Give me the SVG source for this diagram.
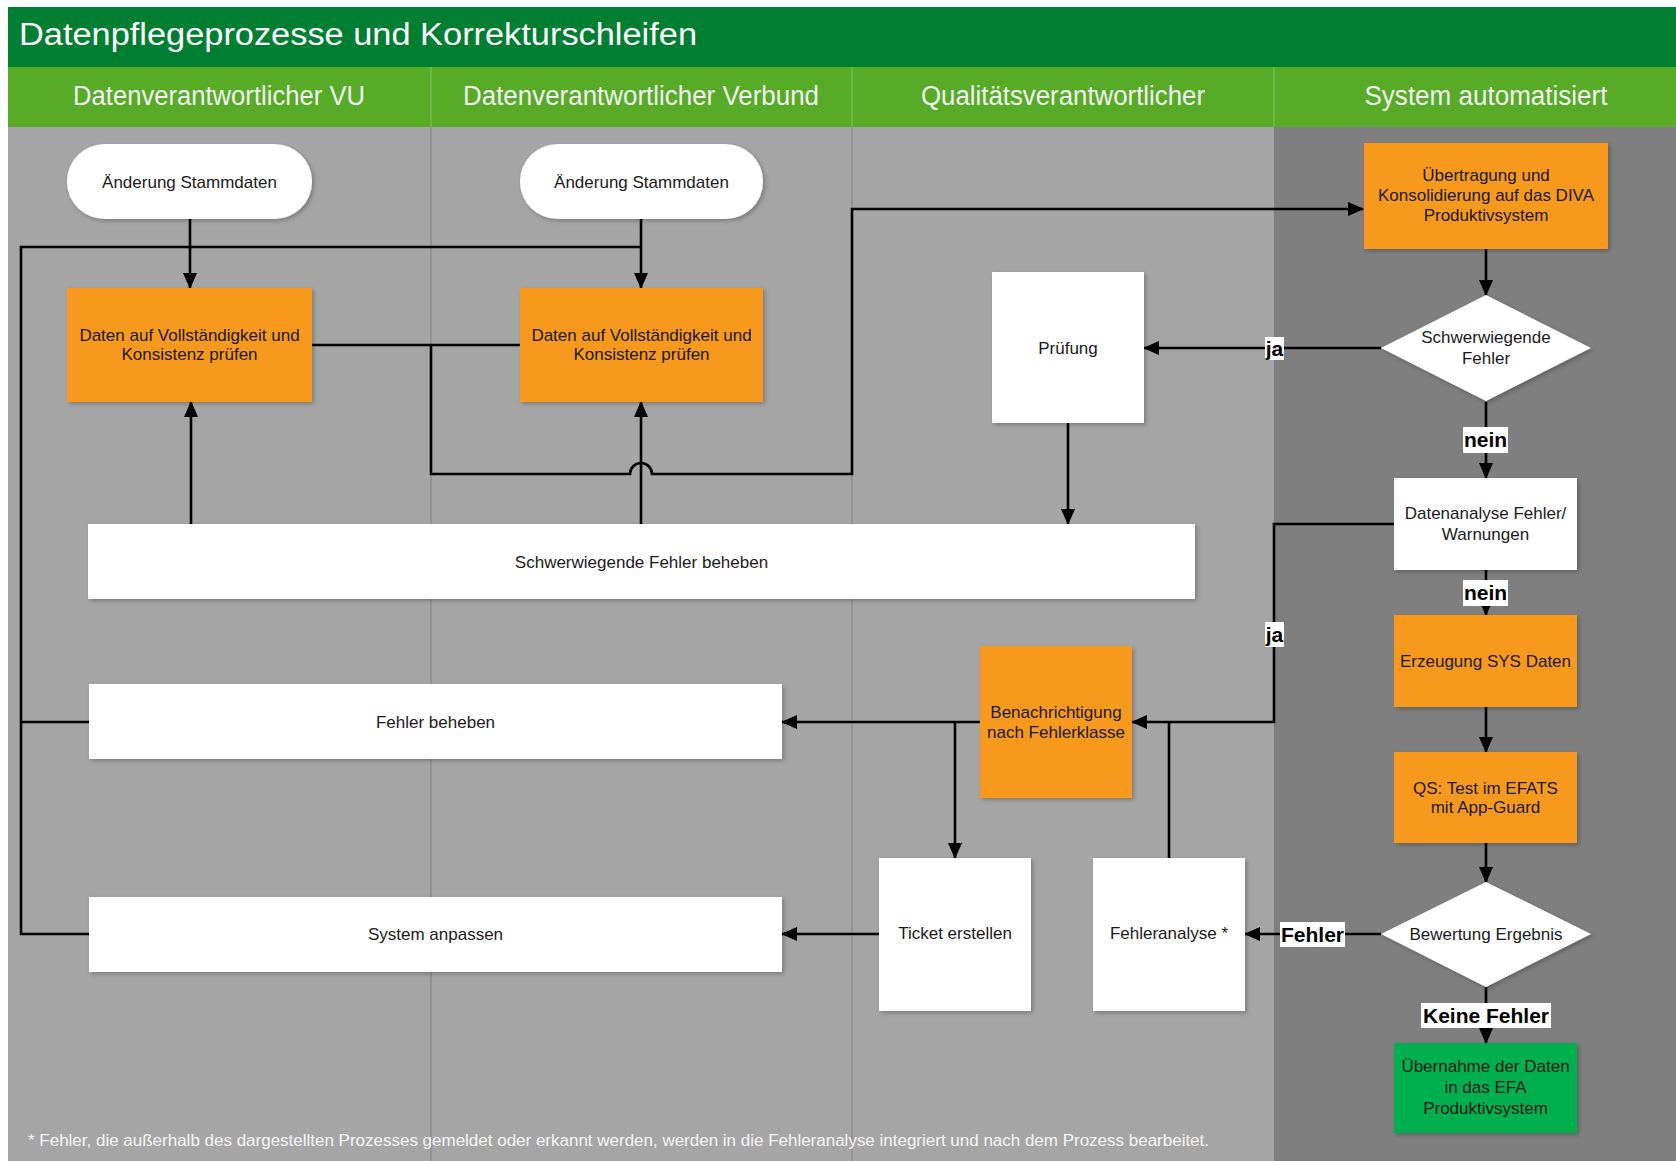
<svg xmlns="http://www.w3.org/2000/svg" width="1676" height="1161" viewBox="0 0 1676 1161">
<defs>
<style>
.t{font-family:"Liberation Sans",Arial,sans-serif;font-size:17px;fill:#1a1a1a;text-anchor:middle}
.hd{font-family:"Liberation Sans",Arial,sans-serif;font-size:27px;fill:#f2f2f2;text-anchor:middle}
.lb{font-family:"Liberation Sans",Arial,sans-serif;font-size:21px;font-weight:bold;fill:#000;text-anchor:middle}
.lbg{fill:#fff}
.w{fill:#fff}
.o{fill:#F7991F}
.g{fill:#00B050}
.c{fill:none;stroke:#000;stroke-width:2.6}
.a{marker-end:url(#arr)}
</style>
<marker id="arr" viewBox="0 0 16 14" refX="15" refY="7" markerWidth="16" markerHeight="14" markerUnits="userSpaceOnUse" orient="auto">
<path d="M0,0 L16,7 L0,14 z" fill="#000"/>
</marker>
<filter id="sh" x="-10%" y="-10%" width="125%" height="125%">
<feDropShadow dx="2" dy="2" stdDeviation="2" flood-color="#000" flood-opacity="0.25"/>
</filter>
</defs>

<!-- background -->
<rect x="0" y="0" width="1676" height="1161" fill="#fff"/>
<rect x="8" y="127" width="1266" height="1034" fill="#A5A5A5"/>
<rect x="1274" y="127" width="402" height="1034" fill="#7F7F7F"/>
<line x1="431" y1="127" x2="431" y2="1161" stroke="#8C8C8C" stroke-width="1.5"/>
<line x1="852" y1="127" x2="852" y2="1161" stroke="#8C8C8C" stroke-width="1.5"/>

<!-- title and lane headers -->
<g id="title">
<rect x="8" y="7" width="1668" height="60" fill="#007F32"/>
<text x="19" y="45" font-family="Liberation Sans, Arial, sans-serif" font-size="31" fill="#fff" textLength="678" lengthAdjust="spacingAndGlyphs">Datenpflegeprozesse und Korrekturschleifen</text>
</g>
<g id="lanes">
<rect x="8" y="67" width="1668" height="60" fill="#57AB27"/>
<line x1="431" y1="67" x2="431" y2="127" stroke="#74BB55" stroke-width="1.5"/>
<line x1="852" y1="67" x2="852" y2="127" stroke="#74BB55" stroke-width="1.5"/>
<line x1="1274" y1="67" x2="1274" y2="127" stroke="#74BB55" stroke-width="1.5"/>
<text class="hd" x="219" y="105" textLength="292" lengthAdjust="spacingAndGlyphs">Datenverantwortlicher VU</text>
<text class="hd" x="641" y="105" textLength="356" lengthAdjust="spacingAndGlyphs">Datenverantwortlicher Verbund</text>
<text class="hd" x="1063" y="105" textLength="284" lengthAdjust="spacingAndGlyphs">Qualitätsverantwortlicher</text>
<text class="hd" x="1486" y="105" textLength="243" lengthAdjust="spacingAndGlyphs">System automatisiert</text>
</g>

<!-- connectors -->
<g id="connectors">
<path class="c a" d="M190,219 V288"/>
<path class="c a" d="M641,219 V288"/>
<path class="c" d="M89,934 H21 V247 H641"/>
<path class="c" d="M89,722 H21"/>
<path class="c" d="M312,345 H520"/>
<path class="c a" d="M431,345 V474 H630 A11,11 0 0 1 652,474 H852 V209 H1363"/>
<path class="c a" d="M1486,249 V295"/>
<path class="c a" d="M1381,348 H1144"/>
<path class="c a" d="M1486,402 V478"/>
<path class="c a" d="M1486,570 V615"/>
<path class="c a" d="M1394,524 H1274 V722 H1132"/>
<path class="c a" d="M1068,423 V524"/>
<path class="c a" d="M191,524 V402"/>
<path class="c a" d="M641,524 V402"/>
<path class="c a" d="M1486,707 V752"/>
<path class="c a" d="M1486,843 V882"/>
<path class="c a" d="M1381,934 H1245"/>
<path class="c a" d="M1486,987 V1043"/>
<path class="c" d="M1169,858 V722"/>
<path class="c a" d="M980,722 H782"/>
<path class="c a" d="M955,722 V858"/>
<path class="c a" d="M879,934 H782"/>
<!-- labels -->
<rect class="lbg" x="1265" y="337" width="19" height="23"/>
<text class="lb" x="1274.5" y="356">ja</text>
<rect class="lbg" x="1463" y="427" width="45" height="26"/>
<text class="lb" x="1485.5" y="447">nein</text>
<rect class="lbg" x="1463" y="580" width="45" height="26"/>
<text class="lb" x="1485.5" y="600">nein</text>
<rect class="lbg" x="1265" y="622" width="19" height="25"/>
<text class="lb" x="1274.5" y="642">ja</text>
<rect class="lbg" x="1280" y="922" width="65" height="25"/>
<text class="lb" x="1312.5" y="942">Fehler</text>
<rect class="lbg" x="1421" y="1003" width="130" height="25"/>
<text class="lb" x="1486" y="1023">Keine Fehler</text>
</g>

<!-- nodes -->
<g id="start-vu">
<rect class="w" x="67" y="144" width="245" height="75" rx="38" ry="37" filter="url(#sh)"/>
<text class="t" x="189.5" y="188">Änderung Stammdaten</text>
</g>
<g id="start-verbund">
<rect class="w" x="520" y="144" width="243" height="75" rx="38" ry="37" filter="url(#sh)"/>
<text class="t" x="641.5" y="188">Änderung Stammdaten</text>
</g>
<g id="check-vu">
<rect class="o" x="67" y="288" width="245" height="114" filter="url(#sh)"/>
<text class="t" x="189.5" y="341">Daten auf Vollständigkeit und</text>
<text class="t" x="189.5" y="360">Konsistenz prüfen</text>
</g>
<g id="check-verbund">
<rect class="o" x="520" y="288" width="243" height="114" filter="url(#sh)"/>
<text class="t" x="641.5" y="341">Daten auf Vollständigkeit und</text>
<text class="t" x="641.5" y="360">Konsistenz prüfen</text>
</g>
<g id="pruefung">
<rect class="w" x="992" y="272" width="152" height="151" filter="url(#sh)"/>
<text class="t" x="1068" y="354">Prüfung</text>
</g>
<g id="uebertragung">
<rect class="o" x="1364" y="143" width="244" height="106" filter="url(#sh)"/>
<text class="t" x="1486" y="181">Übertragung und</text>
<text class="t" x="1486" y="201">Konsolidierung auf das DIVA</text>
<text class="t" x="1486" y="221">Produktivsystem</text>
</g>
<g id="dec-schwer">
<polygon class="w" points="1486,295 1591,348 1486,401 1381,348" filter="url(#sh)"/>
<text class="t" x="1486" y="343">Schwerwiegende</text>
<text class="t" x="1486" y="364">Fehler</text>
</g>
<g id="datenanalyse">
<rect class="w" x="1394" y="478" width="183" height="92" filter="url(#sh)"/>
<text class="t" x="1485.5" y="519">Datenanalyse Fehler/</text>
<text class="t" x="1485.5" y="540">Warnungen</text>
</g>
<g id="erzeugung">
<rect class="o" x="1394" y="615" width="183" height="92" filter="url(#sh)"/>
<text class="t" x="1485.5" y="667">Erzeugung SYS Daten</text>
</g>
<g id="qs-test">
<rect class="o" x="1394" y="752" width="183" height="91" filter="url(#sh)"/>
<text class="t" x="1485.5" y="794">QS: Test im EFATS</text>
<text class="t" x="1485.5" y="813">mit App-Guard</text>
</g>
<g id="dec-bewertung">
<polygon class="w" points="1486,882 1591,934 1486,987 1381,934" filter="url(#sh)"/>
<text class="t" x="1486" y="940">Bewertung Ergebnis</text>
</g>
<g id="uebernahme">
<rect class="g" x="1394" y="1043" width="183" height="90" filter="url(#sh)"/>
<text class="t" x="1485.5" y="1072">Übernahme der Daten</text>
<text class="t" x="1485.5" y="1093">in das EFA</text>
<text class="t" x="1485.5" y="1114">Produktivsystem</text>
</g>
<g id="fehleranalyse">
<rect class="w" x="1093" y="858" width="152" height="153" filter="url(#sh)"/>
<text class="t" x="1169" y="939">Fehleranalyse *</text>
</g>
<g id="ticket">
<rect class="w" x="879" y="858" width="152" height="153" filter="url(#sh)"/>
<text class="t" x="955" y="939">Ticket erstellen</text>
</g>
<g id="benachrichtigung">
<rect class="o" x="980" y="646" width="152" height="152" filter="url(#sh)"/>
<text class="t" x="1056" y="718">Benachrichtigung</text>
<text class="t" x="1056" y="738">nach Fehlerklasse</text>
</g>
<g id="schwer-beheben">
<rect class="w" x="88" y="524" width="1107" height="75" filter="url(#sh)"/>
<text class="t" x="641.5" y="568">Schwerwiegende Fehler beheben</text>
</g>
<g id="fehler-beheben">
<rect class="w" x="89" y="684" width="693" height="75" filter="url(#sh)"/>
<text class="t" x="435.5" y="728">Fehler beheben</text>
</g>
<g id="system-anpassen">
<rect class="w" x="89" y="897" width="693" height="75" filter="url(#sh)"/>
<text class="t" x="435.5" y="940">System anpassen</text>
</g>

<text x="28" y="1146" font-family="Liberation Sans, Arial, sans-serif" font-size="16" fill="#f5f5f5" textLength="1181" lengthAdjust="spacingAndGlyphs">* Fehler, die außerhalb des dargestellten Prozesses gemeldet oder erkannt werden, werden in die Fehleranalyse integriert und nach dem Prozess bearbeitet.</text>
</svg>
